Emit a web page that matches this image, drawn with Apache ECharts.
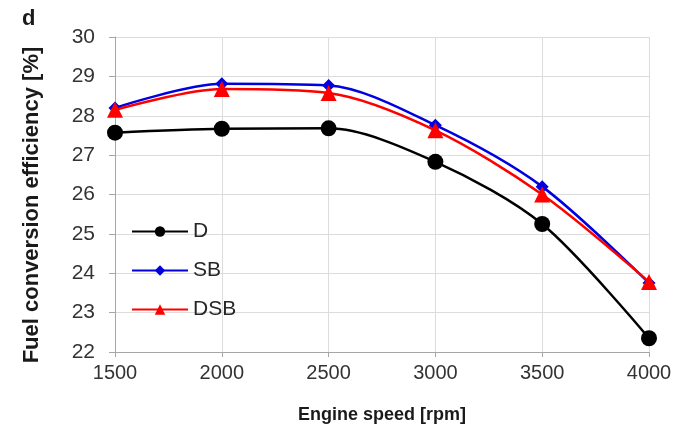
<!DOCTYPE html>
<html>
<head>
<meta charset="utf-8">
<script src="https://cdn.jsdelivr.net/npm/echarts@6/dist/echarts.min.js"></script>
<style>
  html, body { margin: 0; padding: 0; background: #fff; }
  #chart { width: 680px; height: 433px; }
</style>
</head>
<body>
<div id="chart"></div>
<script>
// engine speed [rpm]
const speeds = [1500, 2000, 2500, 3000, 3500, 4000];
// fuel conversion efficiency [%]
const dVals = [27.57, 27.67, 27.68, 26.83, 25.25, 22.35];
const sbVals = [28.2, 28.81, 28.77, 27.76, 26.2, 23.75];
const dsbVals = [28.15, 28.68, 28.58, 27.63, 26.0, 23.78];

const font = 'Liberation Sans, Arial, sans-serif';

function pairs(vals) {
  return speeds.map((s, i) => [s, vals[i]]);
}

const chart = echarts.init(document.getElementById('chart'), null, { renderer: 'canvas' });

const option = {
  animation: false,
  backgroundColor: '#fff',
  textStyle: { fontFamily: font },
  title: {
    text: 'd',
    left: 17,
    top: 3,
    textStyle: { fontSize: 22, fontWeight: 'bold', color: '#1a1a1a', fontFamily: font }
  },
  graphic: [{
    type: 'text',
    x: 32,
    y: 205,
    rotation: Math.PI / 2,
    style: {
      text: 'Fuel conversion efficiency [%]',
      fontSize: 22,
      fontWeight: 'bold',
      fontFamily: font,
      fill: '#1a1a1a',
      align: 'center',
      verticalAlign: 'middle'
    }
  }],
  grid: { left: 115, right: 31, top: 37, bottom: 81 },
  legend: {
    orient: 'vertical',
    left: 126,
    top: 216,
    itemGap: 18,
    itemWidth: 56,
    itemHeight: 13,
    textStyle: { fontSize: 21, color: '#262626', fontFamily: font },
    data: ['D', 'SB', 'DSB']
  },
  xAxis: {
    type: 'value',
    min: 1500,
    max: 4000,
    interval: 500,
    name: 'Engine speed [rpm]',
    nameLocation: 'middle',
    nameGap: 54,
    nameTextStyle: { fontSize: 18, fontWeight: 'bold', color: '#1a1a1a' },
    axisLine: { lineStyle: { color: '#a6a6a6', width: 1 } },
    axisTick: { show: true, length: 5, lineStyle: { color: '#a6a6a6' } },
    axisLabel: { fontSize: 20, color: '#333', margin: 11, formatter: v => String(v) },
    splitLine: { show: true, lineStyle: { color: '#dcdcdc', width: 1 } }
  },
  yAxis: {
    type: 'value',
    min: 22,
    max: 30,
    interval: 1,
    axisLine: { show: true, lineStyle: { color: '#a6a6a6', width: 1 } },
    axisTick: { show: true, length: 6, lineStyle: { color: '#a6a6a6' } },
    axisLabel: { fontSize: 21, color: '#333', margin: 20 },
    splitLine: { show: true, lineStyle: { color: '#dcdcdc', width: 1 } }
  },
  series: [
    {
      name: 'D',
      type: 'line',
      smooth: 0.3,
      data: pairs(dVals),
      symbol: 'circle',
      symbolSize: 16,
      color: '#000',
      lineStyle: { color: '#000', width: 2.5 },
      itemStyle: { color: '#000' },
      z: 2
    },
    {
      name: 'SB',
      type: 'line',
      smooth: 0.3,
      data: pairs(sbVals),
      symbol: 'diamond',
      symbolSize: 13,
      color: '#0000e0',
      lineStyle: { color: '#0000e0', width: 2.5 },
      itemStyle: { color: '#0000e0' },
      z: 3
    },
    {
      name: 'DSB',
      type: 'line',
      smooth: 0.3,
      data: pairs(dsbVals),
      symbol: 'triangle',
      symbolSize: 16,
      color: '#ff0000',
      lineStyle: { color: '#ff0000', width: 2.5 },
      itemStyle: { color: '#ff0000' },
      z: 4
    }
  ]
};

chart.setOption(option);
</script>
</body>
</html>
